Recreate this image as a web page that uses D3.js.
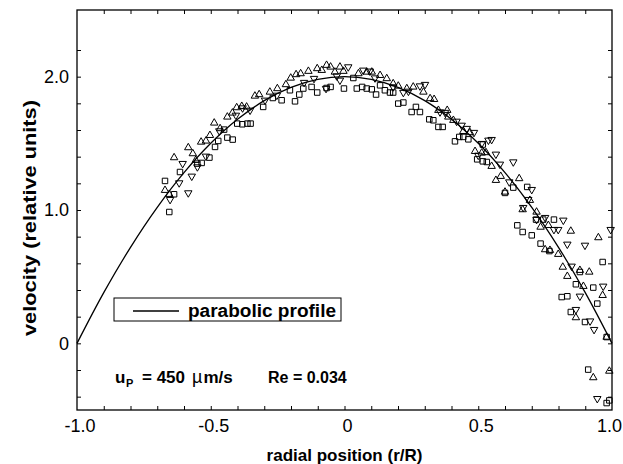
<!DOCTYPE html>
<html>
<head>
<meta charset="utf-8">
<script src="https://cdn.jsdelivr.net/npm/d3@7"></script>
<style>
  body { margin: 0; background: #fff; }
  svg { font-family: "Liberation Sans", Arial, sans-serif; }
</style>
</head>
<body>
<div id="chart"></div>
<script>
// parabolic profile
var curveR = [-1.0, -0.9, -0.8, -0.7, -0.6, -0.5, -0.4, -0.3, -0.2, -0.1, 0, 0.1, 0.2, 0.3, 0.4, 0.5, 0.6, 0.7, 0.8, 0.9, 1.0];
var curveV = [0, 0.38, 0.72, 1.02, 1.28, 1.5, 1.68, 1.82, 1.92, 1.98, 2.0, 1.98, 1.92, 1.82, 1.68, 1.5, 1.28, 1.02, 0.72, 0.38, 0];

// squares
var squarePts = [
  [-0.671, 1.218], [-0.655, 0.985], [-0.637, 1.118], [-0.615, 1.285], [-0.550, 1.348], [-0.534, 1.353],
  [-0.505, 1.393], [-0.484, 1.473], [-0.472, 1.518], [-0.438, 1.543], [-0.418, 1.528], [-0.401, 1.648],
  [-0.382, 1.643], [-0.363, 1.648], [-0.450, 1.603], [-0.351, 1.648], [-0.304, 1.773], [-0.235, 1.823],
  [-0.185, 1.815], [-0.169, 1.866], [-0.154, 1.911], [-0.102, 1.881], [-0.067, 1.915], [-0.052, 1.923],
  [-0.002, 1.911], [0.046, 1.911], [0.066, 1.923], [0.083, 1.911], [-0.268, 1.840], [-0.204, 1.898],
  [-0.123, 1.923], [0.033, 1.990], [0.102, 1.905], [0.118, 1.866], [0.151, 1.898], [0.170, 1.881],
  [0.182, 1.881], [0.201, 1.798], [0.220, 1.806], [0.251, 1.735], [0.282, 1.735], [0.267, 1.773],
  [0.317, 1.680], [0.332, 1.673], [0.351, 1.623], [0.367, 1.623], [0.413, 1.515], [0.429, 1.548],
  [0.444, 1.548], [0.463, 1.530], [0.517, 1.491], [0.496, 1.380], [0.517, 1.365], [0.133, 1.935],
  [0.532, 1.360], [0.600, 1.128], [0.631, 1.168], [0.683, 1.173], [0.646, 0.885], [0.666, 0.835],
  [0.700, 0.810], [0.716, 0.928], [0.743, 0.928], [0.783, 0.928], [0.733, 0.748], [0.766, 0.692],
  [0.812, 0.347], [0.833, 0.353], [0.865, 0.443], [0.880, 0.535], [0.930, 0.418], [0.945, 0.298],
  [0.965, 0.610], [0.846, 0.235], [0.899, 0.160], [0.911, -0.197], [0.980, 0.047], [0.980, -0.448],
  [0.990, -0.428]
];

// triangles pointing up
var upPts = [
  [-0.637, 1.393], [-0.671, 1.148], [-0.584, 1.468], [-0.567, 1.423], [-0.536, 1.510], [-0.518, 1.518],
  [-0.503, 1.560], [-0.487, 1.653], [-0.438, 1.698], [-0.419, 1.728], [-0.403, 1.768], [-0.384, 1.778],
  [-0.556, 1.373], [-0.465, 1.611], [-0.655, 1.118], [-0.335, 1.855], [-0.319, 1.866], [-0.251, 1.911],
  [-0.219, 1.941], [-0.201, 1.990], [-0.181, 2.016], [-0.164, 2.023], [-0.135, 2.041], [-0.102, 2.061],
  [-0.085, 2.048], [-0.067, 2.086], [-0.052, 2.073], [-0.017, 2.073], [-0.036, 2.035], [-0.004, 2.041],
  [0.052, 2.023], [0.083, 2.035], [-0.366, 1.773], [-0.279, 1.885], [0.102, 2.035], [0.133, 2.010],
  [0.158, 1.986], [0.182, 1.948], [0.201, 1.930], [0.233, 1.911], [0.295, 1.885], [0.320, 1.836],
  [0.335, 1.830], [0.351, 1.748], [0.384, 1.748], [0.388, 1.698], [0.407, 1.673], [0.444, 1.590],
  [0.469, 1.581], [0.488, 1.440], [0.529, 1.431], [0.257, 1.923], [0.513, 1.428], [0.550, 1.328],
  [0.566, 1.223], [0.584, 1.253], [0.600, 1.135], [0.653, 1.236], [0.693, 1.073], [0.718, 0.985],
  [0.733, 0.872], [0.762, 0.885], [0.750, 0.703], [0.768, 0.698], [0.799, 0.668], [0.816, 0.572],
  [0.833, 0.503], [0.846, 0.842], [0.880, 0.548], [0.915, 0.535], [0.893, 0.428], [0.949, 0.793],
  [0.965, 0.360], [0.865, 0.193], [0.930, -0.257], [0.980, 0.047], [0.990, -0.208], [0.666, 1.003]
];

// triangles pointing down
var downPts = [
  [-0.605, 1.348], [-0.584, 1.128], [-0.571, 1.253], [-0.618, 1.203], [-0.652, 1.078], [-0.518, 1.403],
  [-0.550, 1.323], [-0.468, 1.593], [-0.406, 1.710], [-0.353, 1.748], [-0.297, 1.823], [-0.253, 1.860],
  [-0.151, 1.956], [-0.114, 1.986], [-0.069, 1.911], [-0.029, 2.005], [0.014, 2.073], [0.070, 2.048],
  [-0.017, 1.973], [-0.381, 1.765], [0.095, 2.041], [0.114, 1.990], [0.220, 1.881], [0.239, 1.890],
  [0.282, 1.930], [0.301, 1.941], [0.357, 1.735], [0.376, 1.731], [0.419, 1.665], [0.438, 1.635],
  [0.457, 1.611], [0.484, 1.581], [0.513, 1.498], [0.500, 1.410], [0.538, 1.523], [0.182, 1.923],
  [0.550, 1.528], [0.566, 1.418], [0.581, 1.343], [0.631, 1.360], [0.616, 1.210], [0.700, 1.153],
  [0.687, 1.078], [0.668, 1.018], [0.718, 0.928], [0.750, 0.943], [0.783, 0.853], [0.799, 0.853],
  [0.818, 0.923], [0.833, 0.743], [0.849, 0.578], [0.880, 0.353], [0.899, 0.735], [0.918, 0.167],
  [0.933, 0.103], [0.865, 0.253], [0.945, -0.415], [0.995, 0.853], [0.967, 0.428]
];

var xTickLabels = [-1.0, -0.5, 0, 0.5, 1.0];
var yTickLabels = [0, 1.0, 2.0];

const plot_left = 77, plot_right = 612, plot_top = 10, plot_bottom = 410;
const svg_width = 623, svg_height = 464;

var svg = d3.select('#chart').append('svg')
    .attr('width', svg_width)
    .attr('height', svg_height);

var x = d3.scaleLinear().domain([-1, 1]).range([plot_left, plot_right]);
var y = d3.scaleLinear().domain([-0.5, 2.5]).range([plot_bottom, plot_top]);

// plain hyphen for negatives, bare "0" at zero
var fmt = function (d) { return d === 0 ? '0' : d.toFixed(1); };

// minor/major ticks, inward on all four sides
var xTicks = d3.range(-9, 10).map(function (i) { return i / 10; });
var yTicks = d3.range(-2, 12).map(function (i) { return i / 5; });

function tickAxis(axis, ticks, transform) {
    var g = svg.append('g')
        .attr('transform', transform)
        .call(axis.tickValues(ticks).tickSize(-4).tickFormat(''));
    g.select('.domain').remove();
    g.selectAll('line').attr('stroke', '#000').attr('stroke-width', 1);
}
tickAxis(d3.axisBottom(x), xTicks, `translate(0,${plot_bottom})`);
tickAxis(d3.axisTop(x), xTicks, `translate(0,${plot_top})`);
tickAxis(d3.axisLeft(y), yTicks, `translate(${plot_left},0)`);
tickAxis(d3.axisRight(y), yTicks, `translate(${plot_right},0)`);

// frame
svg.append('rect')
    .attr('x', plot_left)
    .attr('y', plot_top)
    .attr('width', plot_right - plot_left)
    .attr('height', plot_bottom - plot_top)
    .attr('fill', 'none')
    .attr('stroke', '#000')
    .attr('stroke-width', 1.3);

// tick labels
svg.append('g').selectAll('text').data(xTickLabels)
    .enter().append('text')
    .attr('x', function (d) { return d === 1 ? svg_width - 1 : x(d) + 3; })
    .attr('y', plot_bottom + 22)
    .attr('text-anchor', function (d) { return d === 1 ? 'end' : 'middle'; })
    .attr('font-size', 18)
    .text(fmt);

svg.append('g').selectAll('text').data(yTickLabels)
    .enter().append('text')
    .attr('x', plot_left - 8)
    .attr('y', function (d) { return y(d); })
    .attr('dy', '0.36em')
    .attr('text-anchor', 'end')
    .attr('font-size', 18)
    .text(fmt);

// axis titles
svg.append('text')
    .attr('x', (plot_left + plot_right) / 2)
    .attr('y', 461)
    .attr('text-anchor', 'middle')
    .attr('font-size', 17)
    .attr('font-weight', 'bold')
    .text('radial position (r/R)');

svg.append('text')
    .attr('transform', 'translate(36,218) rotate(-90)')
    .attr('text-anchor', 'middle')
    .attr('font-size', 18)
    .attr('font-weight', 'bold')
    .attr('textLength', 236)
    .attr('lengthAdjust', 'spacingAndGlyphs')
    .text('velocity (relative units)');

// profile curve
var curveData = curveR.map(function (r, i) { return [r, curveV[i]]; });
svg.append('path')
    .datum(curveData)
    .attr('fill', 'none')
    .attr('stroke', '#000')
    .attr('stroke-width', 1.3)
    .attr('d', d3.line()
        .x(function (d) { return x(d[0]); })
        .y(function (d) { return y(d[1]); })
        .curve(d3.curveCatmullRom));

// markers
var markers = [
    { pts: squarePts, sym: d3.symbolSquare, size: 30, rot: 0 },
    { pts: upPts, sym: d3.symbolTriangle, size: 24, rot: 0 },
    { pts: downPts, sym: d3.symbolTriangle, size: 24, rot: 180 }
];
markers.forEach(function (m) {
    svg.append('g').selectAll('path').data(m.pts)
        .enter().append('path')
        .attr('d', d3.symbol().type(m.sym).size(m.size))
        .attr('transform', function (d) {
            return `translate(${x(d[0])},${y(d[1])}) rotate(${m.rot})`;
        })
        .attr('fill', 'none')
        .attr('stroke', '#000')
        .attr('stroke-width', 1);
});

// legend
var legend = svg.append('g');
legend.append('rect')
    .attr('x', 114)
    .attr('y', 298)
    .attr('width', 227)
    .attr('height', 23)
    .attr('fill', '#fff')
    .attr('stroke', '#000')
    .attr('stroke-width', 1);
legend.append('line')
    .attr('x1', 133).attr('x2', 179)
    .attr('y1', 311).attr('y2', 311)
    .attr('stroke', '#000')
    .attr('stroke-width', 1.3);
legend.append('text')
    .attr('x', 188)
    .attr('y', 317)
    .attr('font-size', 18)
    .attr('font-weight', 'bold')
    .attr('textLength', 148)
    .attr('lengthAdjust', 'spacingAndGlyphs')
    .text('parabolic profile');

// annotation
var ann = svg.append('text')
    .attr('y', 383)
    .attr('font-size', 17)
    .attr('font-weight', 'bold');
ann.append('tspan').attr('x', 115).text('u');
ann.append('tspan').attr('x', 126).attr('dy', 4).attr('font-size', 11).text('P');
ann.append('tspan').attr('x', 142).attr('dy', -4).text('= 450');
ann.append('tspan').attr('x', 192).attr('font-weight', 'normal').attr('font-size', 18).text('\u00b5');
ann.append('tspan').attr('dx', 1).text('m/s');

svg.append('text')
    .attr('x', 268)
    .attr('y', 383)
    .attr('font-size', 16)
    .attr('font-weight', 'bold')
    .text('Re = 0.034');
</script>
</body>
</html>
